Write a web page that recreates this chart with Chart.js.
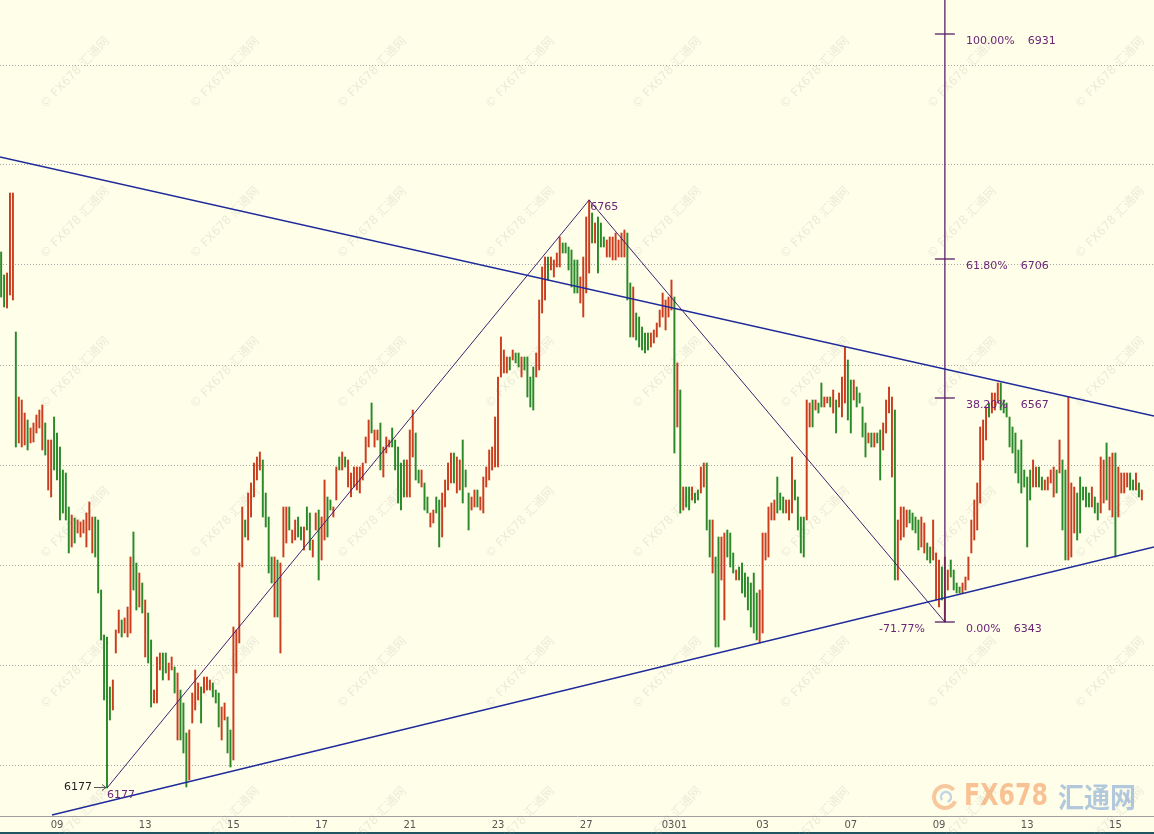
<!DOCTYPE html>
<html>
<head>
<meta charset="utf-8">
<script src="https://cdn.jsdelivr.net/npm/chart.js@4.4.1/dist/chart.umd.min.js"></script>
<style>
  html, body { margin: 0; padding: 0; background: #ffffe9; }
  #wrap { width: 1154px; height: 834px; position: relative; }
</style>
</head>
<body>
<div id="wrap"><canvas id="chart"></canvas></div>
<script>
// bar highs / lows, one value per bar
const highs = [
  6713,6690,6692,6772,6772,6633,6568,6565,6552,6545,
  6537,6542,6550,6555,6560,6542,6525,6525,6548,6532,
  6518,6495,6492,6458,6450,6447,6445,6443,6445,6452,
  6463,6448,6448,6445,6375,6330,6328,6278,6285,6335,
  6355,6345,6347,6358,6408,6433,6402,6392,6382,6365,
  6352,6325,6275,6308,6312,6312,6312,6302,6308,6298,
  6292,6275,6262,6232,6235,6272,6295,6282,6278,6288,
  6288,6285,6282,6275,6272,6258,6262,6248,6235,6338,
  6335,6402,6458,6445,6472,6482,6502,6508,6513,6505,
  6472,6448,6408,6408,6405,6402,6458,6458,6458,6435,
  6445,6448,6438,6438,6458,6452,6425,6452,6455,6448,
  6485,6468,6465,6458,6498,6508,6513,6508,6505,6492,
  6498,6498,6498,6502,6528,6545,6562,6535,6535,6542,
  6518,6528,6525,6537,6525,6518,6502,6505,6505,6535,
  6555,6532,6495,6495,6482,6468,6452,6455,6468,6465,
  6472,6485,6502,6512,6512,6508,6505,6525,6495,6472,
  6468,6475,6475,6468,6488,6498,6515,6518,6548,6588,
  6628,6615,6608,6608,6615,6612,6612,6608,6608,6608,
  6588,6598,6612,6665,6698,6708,6708,6708,6705,6712,
  6728,6722,6722,6718,6715,6705,6705,6688,6708,6748,
  6765,6752,6742,6748,6742,6728,6725,6728,6728,6732,
  6725,6732,6735,6732,6682,6678,6652,6648,6638,6632,
  6632,6632,6635,6642,6655,6672,6665,6668,6685,6668,
  6602,6575,6478,6478,6478,6478,6472,6475,6498,6502,
  6502,6445,6445,6408,6428,6428,6432,6435,6432,6412,
  6395,6398,6402,6392,6388,6382,6392,6372,6375,6432,
  6432,6458,6462,6465,6488,6472,6468,6465,6465,6508,
  6485,6468,6448,6448,6565,6562,6565,6565,6562,6582,
  6568,6568,6568,6575,6565,6572,6588,6618,6605,6585,
  6585,6578,6572,6558,6542,6532,6532,6532,6532,6535,
  6542,6565,6578,6568,6555,6445,6458,6458,6455,6455,
  6452,6448,6445,6448,6442,6422,6418,6445,6412,6405,
  6398,6408,6395,6405,6395,6382,6378,6382,6388,6408,
  6445,6465,6482,6538,6545,6558,6562,6572,6572,6582,
  6582,6565,6562,6548,6538,6532,6515,6525,6495,6488,
  6495,6505,6498,6498,6488,6485,6488,6495,6498,6495,
  6525,6505,6495,6568,6482,6478,6472,6488,6478,6478,
  6472,6478,6468,6462,6508,6505,6522,6508,6512,6512,
  6498,6492,6492,6492,6492,6485,6492,6482,6475
];
const lows = [
  6668,6658,6657,6670,6665,6518,6522,6518,6520,6515,
  6522,6523,6532,6537,6515,6510,6475,6468,6495,6485,
  6445,6452,6445,6412,6418,6422,6432,6428,6432,6418,
  6435,6412,6408,6372,6325,6265,6177,6245,6255,6312,
  6332,6328,6332,6328,6332,6375,6355,6358,6352,6308,
  6302,6258,6262,6262,6295,6285,6292,6285,6295,6272,
  6225,6225,6212,6178,6185,6242,6255,6265,6242,6272,
  6275,6275,6268,6262,6238,6225,6245,6212,6198,6205,
  6292,6322,6398,6428,6425,6448,6468,6485,6495,6448,
  6438,6392,6382,6348,6348,6312,6408,6422,6435,6422,
  6425,6428,6425,6415,6435,6415,6408,6435,6385,6405,
  6425,6428,6455,6448,6465,6495,6495,6498,6478,6468,
  6478,6475,6472,6485,6502,6518,6532,6518,6525,6495,
  6488,6512,6518,6518,6495,6462,6455,6468,6468,6468,
  6508,6485,6482,6478,6455,6452,6438,6442,6452,6418,
  6428,6458,6475,6482,6482,6472,6475,6462,6478,6435,
  6455,6458,6458,6455,6452,6478,6485,6495,6498,6498,
  6588,6592,6592,6595,6605,6602,6598,6588,6595,6568,
  6558,6555,6588,6595,6652,6665,6685,6695,6688,6698,
  6698,6712,6712,6695,6678,6672,6672,6662,6648,6672,
  6692,6722,6722,6692,6718,6718,6708,6708,6705,6705,
  6708,6708,6708,6665,6628,6628,6625,6618,6615,6612,
  6615,6618,6622,6628,6638,6648,6635,6648,6655,6512,
  6538,6452,6455,6458,6455,6465,6462,6465,6472,6478,
  6435,6408,6392,6318,6318,6385,6345,6408,6398,6392,
  6385,6385,6372,6368,6355,6338,6332,6325,6322,6332,
  6405,6408,6445,6445,6452,6455,6452,6452,6445,6452,
  6465,6435,6412,6408,6445,6538,6538,6555,6552,6558,
  6558,6562,6558,6552,6532,6558,6548,6562,6545,6532,
  6565,6558,6562,6528,6508,6522,6518,6518,6522,6485,
  6515,6532,6552,6488,6385,6385,6425,6428,6438,6442,
  6435,6432,6415,6418,6412,6405,6402,6405,6365,6358,
  6365,6343,6375,6388,6375,6372,6372,6372,6375,6385,
  6412,6425,6435,6462,6505,6525,6548,6552,6555,6562,
  6555,6552,6548,6518,6512,6492,6482,6472,6478,6418,
  6465,6478,6478,6478,6475,6475,6475,6482,6468,6472,
  6492,6435,6405,6405,6408,6432,6425,6432,6465,6458,
  6458,6458,6452,6445,6452,6462,6465,6455,6448,6408,
  6448,6472,6472,6478,6475,6475,6475,6468,6465
];
// r = up bar (red), g = down bar (green)
const sides = (
  'ggrrrgrrrg rrrrrgrrgg ggggrgrrrr rrggggggrr rgrrrggrgr ' +
  'ggrrrggrrg rgggrrrrgr rrgggrrggr rrrgrrrrrg gggrgrrrgr ' +
  'rggrggrrgr rggrrgrgrr rrrrrrgrrg rrrgggggrr rggrggrrgg ' +
  'rrrrgrrggg rrgrrrrrrr rrrgrggrgg ggrrrrgrrr rggggggrrr ' +
  'rgrgggrrrr rrrggrgggg grrrrrrrrg rgrggrggrr ggrggrrggg ' +
  'rgggggggrr rrrrgggrrr ggggrrgrgg rrgrgrrrgg rggggrgrgg ' +
  'rrrrgrrrrg gggrrggrrr grrggggrrr rrrrrrgrrr gggggggggg ' +
  'grrggrrrrg rggrrrgggg grggrrgrrg rrrrggrgr'
).replace(/\s/g, '');

const dateLabels = ['09', '13', '15', '17', '21', '23', '27', '0301', '03', '07', '09', '13', '15'];
const dateIndex = [19, 49, 79, 109, 139, 169, 199, 229, 259, 289, 319, 349, 379];
const gridPrices = [6200, 6300, 6400, 6500, 6600, 6700, 6800, 6900];

// swing points (bar index, price)
const swingIndex = [36, 200, 321];
const swingPrice = [6177, 6765, 6343];

// fibonacci retracement drawn at the last swing
const fibIndex = 321;
const fibNames = ['100.00%', '61.80%', '38.20%', '0.00%'];
const fibLevels = [6931, 6706, 6567, 6343];
const fibExtension = '-71.77%';

// trend lines: [startIndex, startPrice, endIndex, endPrice]
const X_MIN = -0.39, X_MAX = 392.13;
const Y_MIN = 6149, Y_MAX = 6965;
const upperTrend = [X_MIN, 6808, X_MAX, 6549];
const lowerTrend = [17.3, 6150, X_MAX, 6418];

const RED = '#cc3d1f';
const GREEN = '#2a8a2a';
const PURPLE = '#5b1e66';
const TEXT_PURPLE = '#6b2577';

Chart.defaults.font.family = '"DejaVu Sans", sans-serif';

function seg(a, color, width) {
  return {
    type: 'line',
    data: [{ x: a[0], y: a[1] }, { x: a[2], y: a[3] }],
    borderColor: color, borderWidth: width,
    pointRadius: 0, fill: false, order: 1
  };
}

const overlayLines = [
  seg(upperTrend, '#1e2a9a', 1.3),
  seg(lowerTrend, '#1e2a9a', 1.3),
  {
    type: 'line',
    data: swingIndex.map((k, n) => ({ x: k, y: swingPrice[n] })),
    borderColor: '#402070', borderWidth: 1, pointRadius: 0, fill: false, order: 1
  },
  seg([fibIndex, fibLevels[3], fibIndex, Y_MAX], PURPLE, 1.3)
];
fibLevels.forEach(p => overlayLines.push(seg([fibIndex - 3.4, p, fibIndex + 3.4, p], PURPLE, 1.3)));

const background = {
  id: 'background',
  beforeDraw(chart) {
    const { ctx, width, height } = chart;
    ctx.save();
    ctx.fillStyle = '#ffffe9';
    ctx.fillRect(0, 0, width, height);
    ctx.fillStyle = '#1e5560';
    ctx.fillRect(0, height - 2, width, 2);
    ctx.restore();
  },
  beforeDatasetsDraw(chart) {
    // faint site watermark
    const ctx = chart.ctx;
    ctx.save();
    ctx.font = '12px "DejaVu Sans", "Noto Sans CJK SC"';
    ctx.textAlign = 'center';
    ctx.textBaseline = 'middle';
    ctx.fillStyle = 'rgba(150,150,150,0.2)';
    [75, 225, 372, 520, 667, 815, 962, 1110].forEach(cx => {
      [73, 223, 373, 523, 673, 823].forEach(cy => {
        ctx.save();
        ctx.translate(cx, cy);
        ctx.rotate(-46 * Math.PI / 180);
        ctx.fillText('© FX678 汇通网', 0, 0);
        ctx.restore();
      });
    });
    ctx.restore();
  }
};

const overlayText = {
  id: 'overlayText',
  afterDatasetsDraw(chart) {
    const { ctx, scales: { x, y } } = chart;
    ctx.save();
    ctx.font = '11px "DejaVu Sans"';
    ctx.textBaseline = 'middle';
    ctx.fillStyle = TEXT_PURPLE;

    const vx = x.getPixelForValue(fibIndex);
    fibLevels.forEach((p, k) => {
      const py = y.getPixelForValue(p) + 7;
      ctx.textAlign = 'left';
      ctx.fillText(fibNames[k], vx + 21, py);
      const w = ctx.measureText(fibNames[k]).width;
      ctx.fillText(String(p), vx + 21 + w + 13, py);
    });
    ctx.textAlign = 'right';
    ctx.fillText(fibExtension, vx - 20, y.getPixelForValue(fibLevels[3]) + 7);

    // swing labels
    ctx.textAlign = 'left';
    ctx.fillText(String(swingPrice[1]), x.getPixelForValue(swingIndex[1]) + 1, y.getPixelForValue(swingPrice[1]) + 7);
    const lx = x.getPixelForValue(swingIndex[0]);
    const ly = y.getPixelForValue(swingPrice[0]);
    ctx.fillText(String(swingPrice[0]), lx, ly + 7);

    // lowest price marker
    ctx.fillStyle = '#222';
    ctx.textAlign = 'right';
    ctx.fillText(String(swingPrice[0]), lx - 15, ly - 1);
    ctx.strokeStyle = '#555';
    ctx.lineWidth = 1;
    ctx.beginPath();
    ctx.moveTo(lx - 13, ly - 0.5);
    ctx.lineTo(lx - 1, ly - 0.5);
    ctx.moveTo(lx - 5, ly - 3.5);
    ctx.lineTo(lx - 1, ly - 0.5);
    ctx.lineTo(lx - 5, ly + 2.5);
    ctx.stroke();
    ctx.restore();
  },
  afterDraw(chart) {
    // site logo, bottom right
    const ctx = chart.ctx;
    ctx.save();
    ctx.globalAlpha = 0.6;
    ctx.strokeStyle = '#f2a46a';
    ctx.lineWidth = 4;
    ctx.beginPath();
    ctx.arc(945, 797, 11, 0.4, 5.6);
    ctx.stroke();
    ctx.strokeStyle = '#9cb8de';
    ctx.lineWidth = 2.5;
    ctx.beginPath();
    ctx.arc(946, 797, 5, 2.5, 7.5);
    ctx.stroke();
    ctx.textBaseline = 'middle';
    ctx.textAlign = 'left';
    ctx.font = 'bold 31px "DejaVu Sans"';
    ctx.fillStyle = '#f39a5c';
    ctx.fillText('FX678', 964, 797, 84);
    ctx.font = 'bold 28px "Noto Sans CJK SC"';
    ctx.fillStyle = '#7fa3d6';
    ctx.fillText('汇通网', 1058, 797, 78);
    ctx.restore();
  }
};

new Chart(document.getElementById('chart'), {
  type: 'bar',
  data: {
    datasets: [
      {
        type: 'bar',
        data: highs.map((h, k) => ({ x: k, y: [lows[k], h] })),
        backgroundColor: highs.map((h, k) => sides[k] === 'r' ? RED : GREEN),
        borderWidth: 0,
        barThickness: 1.3,
        order: 2
      },
      ...overlayLines
    ]
  },
  options: {
    responsive: true,
    maintainAspectRatio: false,
    animation: false,
    layout: { padding: 0 },
    plugins: { legend: { display: false }, tooltip: { enabled: false } },
    scales: {
      x: {
        type: 'linear',
        min: X_MIN,
        max: X_MAX,
        offset: false,
        grid: { display: false, drawTicks: false },
        border: { display: true, color: '#a0a0a0' },
        afterBuildTicks: s => { s.ticks = dateIndex.map(v => ({ value: v })); },
        ticks: {
          autoSkip: false,
          maxRotation: 0,
          padding: 3,
          color: '#555',
          font: { size: 10 },
          callback: (v, i) => dateLabels[i]
        },
        afterFit: s => { s.height = 18; }
      },
      y: {
        min: Y_MIN,
        max: Y_MAX,
        beginAtZero: false,
        afterBuildTicks: s => { s.ticks = gridPrices.map(v => ({ value: v })); },
        ticks: { display: false },
        grid: { color: '#a8a8a8', drawTicks: false, lineWidth: 1 },
        border: { display: false, dash: [1, 2] },
        afterFit: s => { s.width = 0; }
      }
    }
  },
  plugins: [background, overlayText]
});
</script>
</body>
</html>
